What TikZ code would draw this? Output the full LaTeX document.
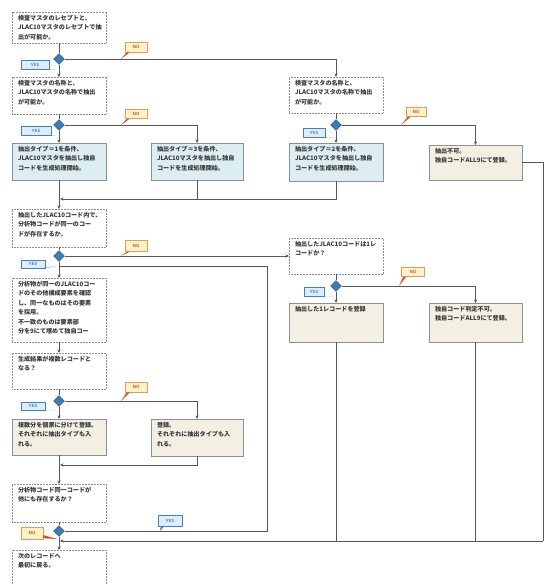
\documentclass[tikz,border=0pt]{standalone}
\usepackage{fontspec}
\newfontfamily\jpf{Noto Sans CJK JP}
\usetikzlibrary{calc,arrows.meta,shapes.geometric}
\definecolor{lineg}{HTML}{55595D}
\definecolor{boxg}{HTML}{8C9094}
\definecolor{cyanf}{HTML}{DCEEF2}
\definecolor{beigef}{HTML}{F3EFE3}
\definecolor{diaf}{HTML}{3C7DB8}
\definecolor{diad}{HTML}{1E4C78}
\definecolor{yesb}{HTML}{3F7FD0}
\definecolor{yesf}{HTML}{DDEDFB}
\definecolor{nob}{HTML}{E89A5A}
\definecolor{nof}{HTML}{FCF3C6}
\definecolor{notx}{HTML}{D5401E}
\definecolor{txt}{HTML}{3A3A3A}
\newcommand\fct[3]{\parbox[c][\dimexpr#2pt-6pt\relax][t]{\dimexpr#1pt-12pt\relax}{\raggedright#3}}
\begin{document}
\begin{tikzpicture}[x=1pt,y=-1pt,
  wb/.style={draw=boxg, densely dotted, line width=0.5pt, fill=white, inner xsep=6pt, inner ysep=3pt, outer sep=0pt, anchor=north west, text=txt, font=\jpf\bfseries\fontsize{6.1}{9.5}\selectfont},
  cb/.style={wb, solid, fill=cyanf},
  bb/.style={wb, solid, fill=beigef},
  dia/.style={diamond, aspect=1, draw=diad, fill=diaf, line width=0.4pt, minimum width=11pt, minimum height=11pt, inner sep=0pt},
  ln/.style={draw=lineg, line width=0.55pt},
  arr/.style={ln, -{Stealth[length=3.6pt,width=3.2pt]}},
  yeslab/.style={draw=yesb, fill=yesf, line width=0.7pt, text=yesb, inner sep=0pt, font=\sffamily\bfseries\fontsize{4.4}{5}\selectfont},
  nolab/.style={draw=nob, fill=nof, line width=0.7pt, text=notx, inner sep=0pt, font=\sffamily\bfseries\fontsize{4.4}{5}\selectfont},
  yestail/.style={fill=yesb},
  notail/.style={fill=notx!80!nob}
]
\useasboundingbox (0,0) rectangle (545,585);
\fill[white] (0,0) rectangle (545,585);
\begin{scope}
\clip (0,0) rectangle (545,585);

% ---------- boxes ----------
\node[wb] (A) at (12,12) {\fct{94}{31}{検査マスタのレセプトと、\\JLAC10マスタのレセプトで抽\\出が可能か。}};
\node[wb] (B) at (12,77) {\fct{94}{37}{検査マスタの名称と、\\JLAC10マスタの名称で抽出\\が可能か。}};
\node[wb] (Bp) at (289,77) {\fct{94}{36}{検査マスタの名称と、\\JLAC10マスタの名称で抽出\\が可能か。}};
\node[cb] (C1) at (12,143) {\fct{94}{37}{抽出タイプ＝1を条件、\\JLAC10マスタを抽出し独自\\コードを生成処理開始。}};
\node[cb] (C2) at (151,143) {\fct{92}{37}{抽出タイプ＝3を条件、\\JLAC10マスタを抽出し独自\\コードを生成処理開始。}};
\node[cb] (C3) at (289,143) {\fct{94}{38}{抽出タイプ＝2を条件、\\JLAC10マスタを抽出し独自\\コードを生成処理開始。}};
\node[bb] (C4) at (429,145) {\fct{93}{35}{抽出不可。\\独自コードALL9にて登録。}};
\node[wb] (D) at (12,209) {\fct{94}{38}{抽出したJLAC10コード内で、\\分析物コードが同一のコー\\ドが存在するか。}};
\node[wb] (E) at (289,238) {\fct{94}{36}{抽出したJLAC10コードは1レ\\コードか？}};
\node[bb] (F1) at (289,303) {\fct{94}{39}{抽出した1レコードを登録}};
\node[bb] (F2) at (429,303) {\fct{93}{39}{独自コード判定不可。\\独自コードALL9にて登録。}};
\node[wb] (G) at (12,278) {\fct{94}{64}{分析物が同一のJLAC10コー\\ドのその他構成要素を確認\\し、同一なものはその要素\\を採用。\\不一致のものは要素部\\分を9にて埋めて独自コー}};
\node[wb] (H) at (12,353) {\fct{94}{36}{生成結果が複数レコードと\\なる？}};
\node[bb] (J1) at (12,419) {\fct{94}{36}{複数分を個票に分けて登録。\\それぞれに抽出タイプも入\\れる。}};
\node[bb] (J2) at (151,419) {\fct{92}{37}{登録。\\それぞれに抽出タイプも入\\れる。}};
\node[wb] (K) at (12,484) {\fct{94}{38}{分析物コード同一コードが\\他にも存在するか？}};
\node[wb] (L) at (12,550) {\fct{94}{46}{次のレコードへ\\最初に戻る。}};

% ---------- decisions ----------
\node[dia] (d1) at (59,59) {};
\node[dia] (d2) at (59,125) {};
\node[dia] (d3) at (336,125) {};
\node[dia] (d5) at (59,256) {};
\node[dia] (d4) at (336,286) {};
\node[dia] (d6) at (59,401) {};
\node[dia] (d7) at (59,531) {};

% ---------- junction coordinates ----------
\coordinate (j1) at (60,199);
\coordinate (j2) at (60,465);
\coordinate (j3) at (60,541);
\coordinate (r1) at (543,541);
\coordinate (lp) at (267,266);
\coordinate (j4) at (59,266);

% ---------- connectors ----------
\draw[ln] (A.south) -- (d1.north);
\draw[arr] (d1.south) -- (B.north);
\draw[arr] (d1.east) -| (Bp.north);
\draw[ln] (B.south) -- (d2.north);
\draw[arr] (d2.south) -- (C1.north);
\draw[arr] (d2.east) -| (C2.north);
\draw[ln] (Bp.south) -- (d3.north);
\draw[arr] (d3.south) -- (C3.north);
\draw[arr] (d3.east) -| (C4.north);
\draw[arr] (C1.south) -- (D.north);
\draw[ln] (C2.south) -- (C2.south |- j1);
\draw[arr] (C3.south) |- (j1);
\draw[ln] (C4.east) -| (r1);
\draw[ln] (D.south) -- (d5.north);
\draw[arr] (d5.east) -- (E.west);
\draw[arr] (d5.south) -- (G.north);
\draw[ln] (E.south) -- (d4.north);
\draw[arr] (d4.south) -- (F1.north);
\draw[arr] (d4.east) -| (F2.north);
\draw[ln] (F1.south) -- (F1.south |- r1);
\draw[ln] (F2.south) -- (F2.south |- r1);
\draw[arr] (G.south) -- (H.north);
\draw[ln] (H.south) -- (d6.north);
\draw[arr] (d6.south) -- (J1.north);
\draw[arr] (d6.east) -| (J2.north);
\draw[arr] (J1.south) -- (K.north);
\draw[arr] (J2.south) |- (j2);
\draw[ln] (K.south) -- (d7.north);
\draw[ln] (d7.east) -| (lp) -- (j4);
\draw[arr] (r1) -- (j3);
\draw[arr] (d7.south) -- (L.north);

% ---------- YES / NO labels ----------
\coordinate (tn1) at (121,59);
\coordinate (ty1) at (57,69);
\coordinate (tn2) at (121,125);
\coordinate (ty2) at (57,135);
\coordinate (tn3) at (401,125);
\coordinate (ty3) at (334,137);
\coordinate (tn5) at (121,256);
\coordinate (ty5) at (57,266);
\coordinate (tn4) at (399,286);
\coordinate (ty4) at (334,297);
\coordinate (tn6) at (121,401);
\coordinate (ty6) at (57,410);
\coordinate (ty7) at (160,531);
\coordinate (tn7) at (57,539);

\node[nolab, minimum width=22pt, minimum height=10pt] (n1) at (136,47) {NO};
\node[nolab, minimum width=22pt, minimum height=9pt] (n2) at (136,114) {NO};
\node[nolab, minimum width=20pt, minimum height=9pt] (n3) at (416,112) {NO};
\node[nolab, minimum width=22pt, minimum height=11pt] (n5) at (136,246) {NO};
\node[nolab, minimum width=23pt, minimum height=9pt] (n4) at (413,272) {NO};
\node[nolab, minimum width=22pt, minimum height=10pt] (n6) at (136,387) {NO};
\node[nolab, minimum width=22pt, minimum height=12pt] (n7) at (32,533) {NO};

\node[yeslab, minimum width=28pt, minimum height=9pt] (y1) at (35,65) {YES};
\node[yeslab, minimum width=30pt, minimum height=9pt] (y2) at (36,131) {YES};
\node[yeslab, minimum width=22pt, minimum height=9pt] (y3) at (314,133) {YES};
\node[yeslab, minimum width=24pt, minimum height=8pt] (y5) at (33,264) {YES};
\node[yeslab, minimum width=20pt, minimum height=9pt] (y4) at (314,292) {YES};
\node[yeslab, minimum width=24pt, minimum height=8pt] (y6) at (33,406) {YES};
\node[yeslab, minimum width=24pt, minimum height=11pt] (y7) at (170,521) {YES};

\foreach \n/\t in {n1/tn1, n2/tn2, n3/tn3, n5/tn5, n4/tn4, n6/tn6}{
  \fill[notail] ($(\n.south west)+(2,0)$) -- (\t) -- ($(\n.south west)+(5,0)$) -- cycle;
}
\foreach \n/\t in {y1/ty1, y2/ty2, y3/ty3, y5/ty5, y4/ty4, y6/ty6}{
  \fill[yestail] ($(\n.south east)+(-5,0)$) -- (\t) -- ($(\n.south east)+(-2,0)$) -- cycle;
}
\fill[yestail] ($(y7.south west)+(3,0)$) -- (ty7) -- ($(y7.south west)+(6,0)$) -- cycle;
\fill[notail] ($(n7.east)+(0,2)$) -- (tn7) -- ($(n7.south east)+(0,-1)$) -- cycle;
\end{scope}
\end{tikzpicture}
\end{document}
